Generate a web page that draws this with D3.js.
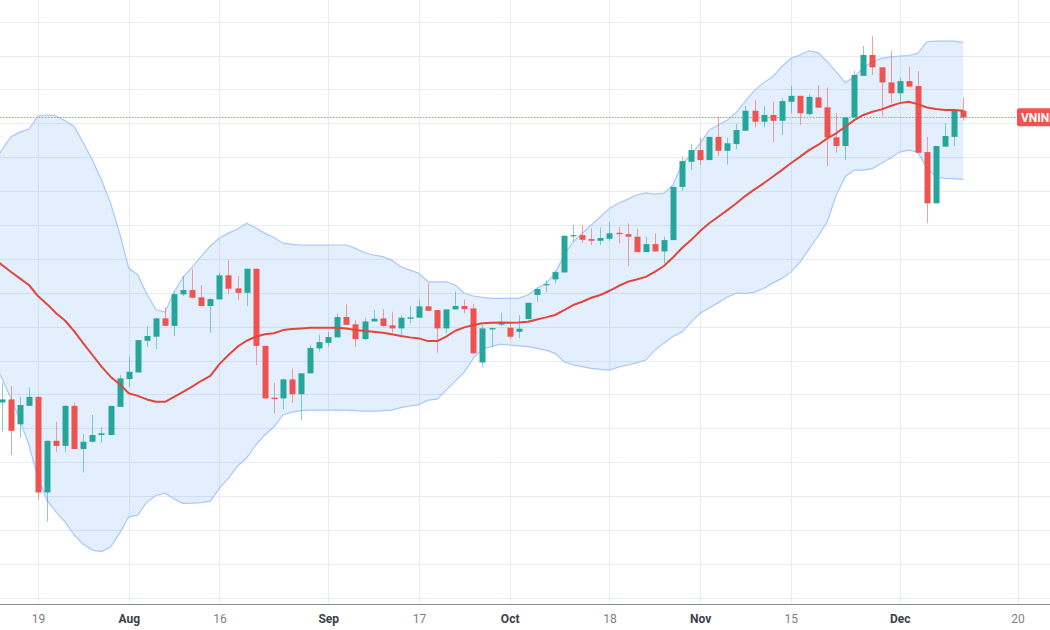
<!DOCTYPE html>
<html><head><meta charset="utf-8">
<script src="https://cdn.jsdelivr.net/npm/d3@7"></script>
<style>html,body{margin:0;padding:0;background:#fff;} svg{display:block;}</style>
</head><body><svg id="c" width="1050" height="630"></svg>
<script>
// ---------- DATA (VNINDEX daily, Jul 12 – Dec 10, 2021) ----------
const dates = [
"2021-07-12","2021-07-13","2021-07-14","2021-07-15","2021-07-16",
"2021-07-19","2021-07-20","2021-07-21","2021-07-22","2021-07-23",
"2021-07-26","2021-07-27","2021-07-28","2021-07-29","2021-07-30",
"2021-08-02","2021-08-03","2021-08-04","2021-08-05","2021-08-06",
"2021-08-09","2021-08-10","2021-08-11","2021-08-12","2021-08-13",
"2021-08-16","2021-08-17","2021-08-18","2021-08-19","2021-08-20",
"2021-08-23","2021-08-24","2021-08-25","2021-08-26","2021-08-27",
"2021-08-30","2021-08-31","2021-09-01",
"2021-09-06","2021-09-07","2021-09-08","2021-09-09","2021-09-10",
"2021-09-13","2021-09-14","2021-09-15","2021-09-16","2021-09-17",
"2021-09-20","2021-09-21","2021-09-22","2021-09-23","2021-09-24",
"2021-09-27","2021-09-28","2021-09-29","2021-09-30","2021-10-01",
"2021-10-04","2021-10-05","2021-10-06","2021-10-07","2021-10-08",
"2021-10-11","2021-10-12","2021-10-13","2021-10-14","2021-10-15",
"2021-10-18","2021-10-19","2021-10-20","2021-10-21","2021-10-22",
"2021-10-25","2021-10-26","2021-10-27","2021-10-28","2021-10-29",
"2021-11-01","2021-11-02","2021-11-03","2021-11-04","2021-11-05",
"2021-11-08","2021-11-09","2021-11-10","2021-11-11","2021-11-12",
"2021-11-15","2021-11-16","2021-11-17","2021-11-18","2021-11-19",
"2021-11-22","2021-11-23","2021-11-24","2021-11-25","2021-11-26",
"2021-11-29","2021-11-30","2021-12-01","2021-12-02","2021-12-03",
"2021-12-06","2021-12-07","2021-12-08","2021-12-09","2021-12-10"];
const futureDates = ["2021-12-13","2021-12-14","2021-12-15","2021-12-16","2021-12-17","2021-12-20","2021-12-21","2021-12-22"];

const openP = [null,
1295.3,1297.1,1282.4,1293.3,
1298.6,1242.2,1272.7,1269.7,1293.3,1267.8,1272.1,1276.1,1276.1,1292.7,
1309.1,1313.0,1331.7,1334.1,1344.9,1340.5,1359.1,1361.6,1357.3,1352.2,
1356.1,1370.3,1362.6,1360.0,1374.2,1328.7,1298.1,1297.7,1308.9,1300.2,
1312.5,1327.2,1330.5,1333.7,1345.7,1341.4,1332.7,1343.1,1344.9,1340.8,
1339.0,1344.7,1345.3,1352.0,1349.8,1339.0,1350.2,1352.2,1350.8,1318.9,
1338.4,1341.2,1339.4,1337.0,1344.5,1358.7,1364.4,1367.9,1372.0,1393.3,
1394.0,1391.7,1390.7,1391.9,1395.4,1394.6,1393.1,1384.0,1388.7,1384.4,
1391.1,1422.5,1437.3,1444.2,1438.3,1452.0,1443.8,1447.7,1455.6,1467.4,
1460.9,1464.9,1461.5,1472.7,1476.2,1465.4,1475.3,1469.4,1451.7,1446.6,
1463.5,1488.0,1500.3,1493.0,1484.1,1477.7,1484.9,1482.0,1443.0,1412.8,
1446.2,1452.0,1467.4];
const highP = [null,
1306.9,1305.0,1298.6,1304.2,
1299.0,1272.7,1283.9,1293.8,1295.1,1276.6,1287.9,1281.0,1293.3,1311.5,
1322.3,1332.1,1340.4,1345.5,1351.4,1360.6,1369.9,1373.8,1364.4,1356.7,
1371.8,1379.3,1369.9,1374.2,1374.2,1328.7,1306.9,1309.5,1315.4,1312.5,
1329.2,1335.2,1337.2,1347.6,1353.2,1343.9,1344.9,1349.8,1350.4,1348.8,
1346.7,1352.3,1355.7,1365.6,1349.8,1350.2,1360.8,1356.1,1353.3,1341.0,
1339.6,1348.2,1342.9,1346.9,1354.1,1363.5,1367.5,1373.0,1394.0,1400.0,
1400.0,1398.0,1398.6,1401.9,1399.0,1401.0,1398.0,1393.1,1395.1,1393.1,
1422.5,1440.2,1447.7,1451.7,1452.0,1463.9,1451.5,1459.5,1470.2,1473.7,
1470.2,1472.5,1474.7,1482.0,1476.2,1477.2,1482.4,1481.2,1465.9,1463.5,
1491.0,1505.6,1511.5,1493.0,1502.8,1487.1,1493.4,1490.8,1452.0,1446.6,
1460.0,1467.4,1475.3];
const lowP = [null,
1278.0,1264.3,1274.5,1293.3,
1237.7,1224.9,1266.2,1266.2,1267.8,1254.0,1271.7,1271.5,1276.1,1292.7,
1304.2,1313.0,1328.2,1326.6,1340.5,1334.5,1358.1,1357.1,1352.2,1336.4,
1356.1,1359.1,1355.7,1352.3,1317.2,1297.7,1288.9,1291.2,1295.1,1284.9,
1312.5,1325.4,1328.2,1333.7,1341.1,1328.2,1332.1,1343.1,1339.9,1336.4,
1334.5,1342.0,1345.3,1349.4,1324.6,1336.1,1350.2,1347.9,1324.3,1316.0,
1327.8,1340.4,1332.5,1333.1,1344.5,1354.7,1360.4,1365.6,1372.0,1389.9,
1389.5,1388.2,1388.2,1390.7,1389.2,1375.9,1384.0,1384.0,1384.4,1377.4,
1391.1,1420.2,1432.4,1435.4,1438.3,1440.7,1435.8,1444.8,1455.6,1457.6,
1457.6,1449.1,1453.1,1465.9,1459.0,1464.3,1469.2,1434.8,1442.6,1438.3,
1463.5,1488.0,1488.5,1464.4,1471.8,1471.8,1481.6,1442.6,1401.0,1412.8,
1446.2,1446.6,1461.5];
const closeP = [null,
1297.1,1278.6,1293.8,1298.6,
1242.2,1272.7,1269.7,1293.3,1267.8,1272.1,1276.1,1277.1,1293.3,1309.5,
1313.4,1332.1,1334.5,1344.9,1340.5,1359.2,1361.6,1357.1,1352.2,1356.3,
1370.3,1362.4,1360.0,1374.2,1328.7,1297.7,1297.3,1308.9,1300.2,1312.5,
1327.4,1330.9,1333.9,1345.7,1341.1,1332.7,1343.1,1344.7,1340.4,1339.0,
1345.3,1345.5,1352.0,1349.4,1339.0,1350.2,1352.2,1350.4,1324.3,1339.0,
1339.2,1342.1,1334.1,1338.8,1354.1,1362.2,1365.1,1372.2,1393.6,1394.0,
1391.3,1390.7,1392.3,1395.1,1394.6,1393.1,1384.0,1388.7,1384.4,1391.1,
1422.5,1437.7,1444.2,1438.3,1452.0,1443.8,1448.2,1456.0,1467.4,1460.9,
1464.9,1461.5,1473.1,1476.2,1465.9,1475.6,1469.2,1451.7,1446.6,1463.5,
1488.5,1500.3,1493.0,1484.1,1477.7,1484.9,1481.6,1442.6,1412.8,1446.6,
1452.5,1467.4,1463.5];

// Bollinger Bands (20, 2)
const basis = [
1381.1,1376.6,1372.4,1368.5,1364.6,
1358.1,1353.3,1347.9,1343.5,1337.2,1330.2,1323.3,1316.4,1310.5,1306.1,
1300.7,1299.2,1297.1,1295.7,1295.7,1298.6,1301.6,1304.6,1308.1,1311.0,
1317.9,1323.3,1328.2,1331.7,1334.1,1335.5,1336.1,1338.0,1338.6,1339.0,
1339.4,1339.4,1339.4,1339.4,1339.0,1338.0,1337.4,1337.0,1336.4,1335.5,
1334.5,1333.7,1333.1,1331.5,1331.5,1334.1,1337.6,1339.6,1341.0,1342.0,
1342.3,1342.5,1342.4,1342.5,1342.9,1344.3,1345.5,1346.9,1349.8,1352.8,
1354.7,1357.1,1358.7,1361.2,1364.0,1366.5,1367.9,1369.4,1372.4,1375.8,
1380.8,1386.4,1391.1,1396.4,1401.0,1404.9,1408.8,1412.8,1417.2,1421.0,
1424.6,1428.5,1432.4,1436.4,1440.2,1444.2,1447.2,1451.1,1454.1,1458.0,
1461.9,1464.9,1466.8,1468.2,1470.2,1471.9,1472.7,1471.3,1469.3,1468.4,
1467.8,1467.8,1467.4];
const upper = [
1434.8,1444.2,1451.9,1454.8,1456.6,
1464.3,1464.9,1464.3,1461.5,1458.0,1448.3,1438.3,1426.5,1412.9,1395.2,
1374.6,1370.5,1359.2,1350.1,1348.6,1360.4,1369.3,1375.2,1381.7,1387.6,
1392.3,1395.2,1397.6,1401.1,1398.2,1395.2,1392.6,1389.3,1388.6,1388.2,
1388.2,1388.2,1388.2,1388.2,1388.2,1386.2,1383.6,1382.3,1381.3,1379.3,
1375.4,1373.4,1371.5,1366.5,1366.5,1366.5,1364.6,1359.7,1358.1,1357.3,
1356.7,1356.7,1356.7,1356.7,1358.7,1362.6,1365.6,1371.5,1382.3,1390.1,
1395.1,1400.0,1404.9,1409.8,1412.8,1415.1,1417.7,1419.0,1418.2,1418.8,
1423.6,1435.9,1441.3,1448.2,1456.0,1459.0,1461.9,1466.6,1473.1,1479.6,
1484.0,1487.5,1493.4,1498.3,1500.3,1502.8,1501.7,1496.4,1490.4,1484.0,
1487.5,1493.0,1496.3,1498.3,1499.2,1499.7,1500.0,1501.3,1508.1,1508.5,
1508.5,1508.5,1507.7];
const lower = [
1320.3,1309.7,1297.9,1284.9,1270.2,
1250.7,1237.7,1230.6,1224.7,1217.1,1211.7,1208.2,1207.3,1210.0,1218.2,
1227.7,1228.9,1236.5,1240.4,1241.8,1238.3,1235.8,1235.9,1236.2,1237.1,
1244.8,1250.7,1257.8,1262.5,1270.2,1276.1,1280.8,1287.9,1289.6,1290.5,
1290.8,1290.8,1290.8,1290.8,1290.8,1290.5,1290.2,1290.2,1290.5,1290.8,
1292.3,1293.2,1294.0,1296.7,1297.3,1302.6,1307.9,1313.2,1321.5,1326.8,
1328.3,1329.7,1329.2,1328.7,1328.2,1327.2,1326.2,1324.3,1319.3,1317.4,
1316.4,1315.4,1314.8,1314.4,1316.2,1317.4,1318.7,1320.3,1326.2,1330.3,
1334.2,1336.8,1342.7,1347.9,1351.0,1354.2,1357.5,1359.8,1359.5,1360.4,
1362.5,1365.7,1368.5,1372.2,1378.1,1385.8,1393.5,1401.7,1417.7,1428.5,
1432.4,1432.4,1433.3,1436.4,1439.5,1443.0,1444.2,1443.0,1433.6,1428.3,
1427.5,1427.4,1426.9];

const tickDates  = ["2021-07-19","2021-08-02","2021-08-16","2021-09-01","2021-09-17","2021-10-01","2021-10-18","2021-11-01","2021-11-15","2021-12-01","2021-12-20"];
const tickLabels = ["19","Aug","16","Sep","17","Oct","18","Nov","15","Dec","20"];
const monthTick  = [false,true,false,true,false,true,false,true,false,true,false];
const gridValues = d3.range(1180, 1541, 20);
const symbolName = "VNINDEX";

// ---------- DRAW ----------
const W = 1050, H = 630, axisY = 604;
const allDates = dates.concat(futureDates);
const x = d3.scaleLinear().domain([5, 113]).range([38, 1017.6]);
const y = d3.scaleLinear().domain([1180, 1520]).range([597.9, 21.6]);
const UP = "#26a69a", DOWN = "#ef5350";

const svg = d3.select("#c");
svg.append("rect").attr("width", W).attr("height", H).attr("fill", "#fff");
svg.append("defs").append("clipPath").attr("id", "pane")
  .append("rect").attr("x", 0).attr("y", 0).attr("width", W).attr("height", axisY);
const pane = svg.append("g").attr("clip-path", "url(#pane)");

const tickIdx = tickDates.map(d => allDates.indexOf(d));

// grid
pane.append("g").selectAll("line").data(gridValues).join("line")
  .attr("x1", 0).attr("x2", W)
  .attr("y1", d => Math.round(y(d)) + 0.5).attr("y2", d => Math.round(y(d)) + 0.5)
  .attr("stroke", "#e8edf3").attr("stroke-width", 1);
pane.append("g").selectAll("line").data(tickIdx).join("line")
  .attr("x1", d => Math.round(x(d)) + 0.5).attr("x2", d => Math.round(x(d)) + 0.5)
  .attr("y1", 0).attr("y2", axisY)
  .attr("stroke", "#e8edf3").attr("stroke-width", 1);

// Bollinger band fill and edges
const idx = d3.range(dates.length);
pane.append("path").datum(idx)
  .attr("d", d3.area().x(i => x(i)).y0(i => y(lower[i])).y1(i => y(upper[i])))
  .attr("fill", "rgba(33,120,243,0.12)");
pane.append("path").datum(idx)
  .attr("d", d3.line().x(i => x(i)).y(i => y(upper[i])))
  .attr("fill", "none").attr("stroke", "#a9c6fb").attr("stroke-width", 1.2);
pane.append("path").datum(idx)
  .attr("d", d3.line().x(i => x(i)).y(i => y(lower[i])))
  .attr("fill", "none").attr("stroke", "#a9c6fb").attr("stroke-width", 1.2);

// last price dotted line
const lastClose = closeP[closeP.length - 1];
pane.append("line")
  .attr("x1", 0).attr("x2", 1017)
  .attr("y1", Math.round(y(lastClose)) + 0.5).attr("y2", Math.round(y(lastClose)) + 0.5)
  .attr("stroke", DOWN).attr("stroke-opacity", 0.75).attr("stroke-width", 1).attr("stroke-dasharray", "1.5,1.5");

// candles
const cIdx = idx.filter(i => openP[i] !== null);
const cg = pane.append("g");
cg.selectAll("line.wick").data(cIdx).join("line").attr("class", "wick")
  .attr("x1", i => Math.round(x(i)) + 0.5).attr("x2", i => Math.round(x(i)) + 0.5)
  .attr("y1", i => y(highP[i])).attr("y2", i => y(lowP[i]))
  .attr("stroke", i => closeP[i] >= openP[i] ? UP : DOWN)
  .attr("stroke-opacity", 0.55).attr("stroke-width", 1);
cg.selectAll("rect.body").data(cIdx).join("rect").attr("class", "body")
  .attr("x", i => Math.round(x(i)) - 2.5).attr("width", 6)
  .attr("y", i => y(Math.max(openP[i], closeP[i])))
  .attr("height", i => Math.max(1.2, Math.abs(y(openP[i]) - y(closeP[i]))))
  .attr("fill", i => closeP[i] >= openP[i] ? UP : DOWN);

// basis (MA 20)
pane.append("path").datum(idx)
  .attr("d", d3.line().x(i => x(i)).y(i => y(basis[i])))
  .attr("fill", "none").attr("stroke", "#e2453c").attr("stroke-width", 2)
  .attr("stroke-linejoin", "round");

// price label (cut by the right edge, as in the original screenshot)
const ly = y(lastClose);
svg.append("rect").attr("x", 1017).attr("y", ly - 9).attr("width", 70).attr("height", 18)
  .attr("rx", 2).attr("fill", DOWN);
svg.append("text").attr("x", 1021).attr("y", ly + 4.5).text(symbolName)
  .attr("fill", "#fff").attr("font-family", "Roboto, 'Noto Sans', sans-serif")
  .attr("font-size", 12).attr("font-weight", "bold");

// time axis
const axis = d3.axisBottom(x).tickValues(tickIdx).tickSize(0).tickPadding(0)
  .tickFormat((d, k) => tickLabels[k]);
const ag = svg.append("g").attr("transform", `translate(0,${axisY})`).call(axis);
ag.select(".domain").remove();
ag.append("line").attr("x1", 0).attr("x2", W).attr("y1", 0.5).attr("y2", 0.5)
  .attr("stroke", "#8a8d96").attr("stroke-width", 1);
ag.selectAll(".tick text")
  .attr("y", 19).attr("dy", 0)
  .attr("font-family", "Roboto, 'Noto Sans', sans-serif").attr("font-size", 12)
  .attr("font-weight", (d, k) => monthTick[k] ? "bold" : "normal")
  .attr("fill", (d, k) => monthTick[k] ? "#3d404a" : "#7b7e89");
</script>
</body></html>
